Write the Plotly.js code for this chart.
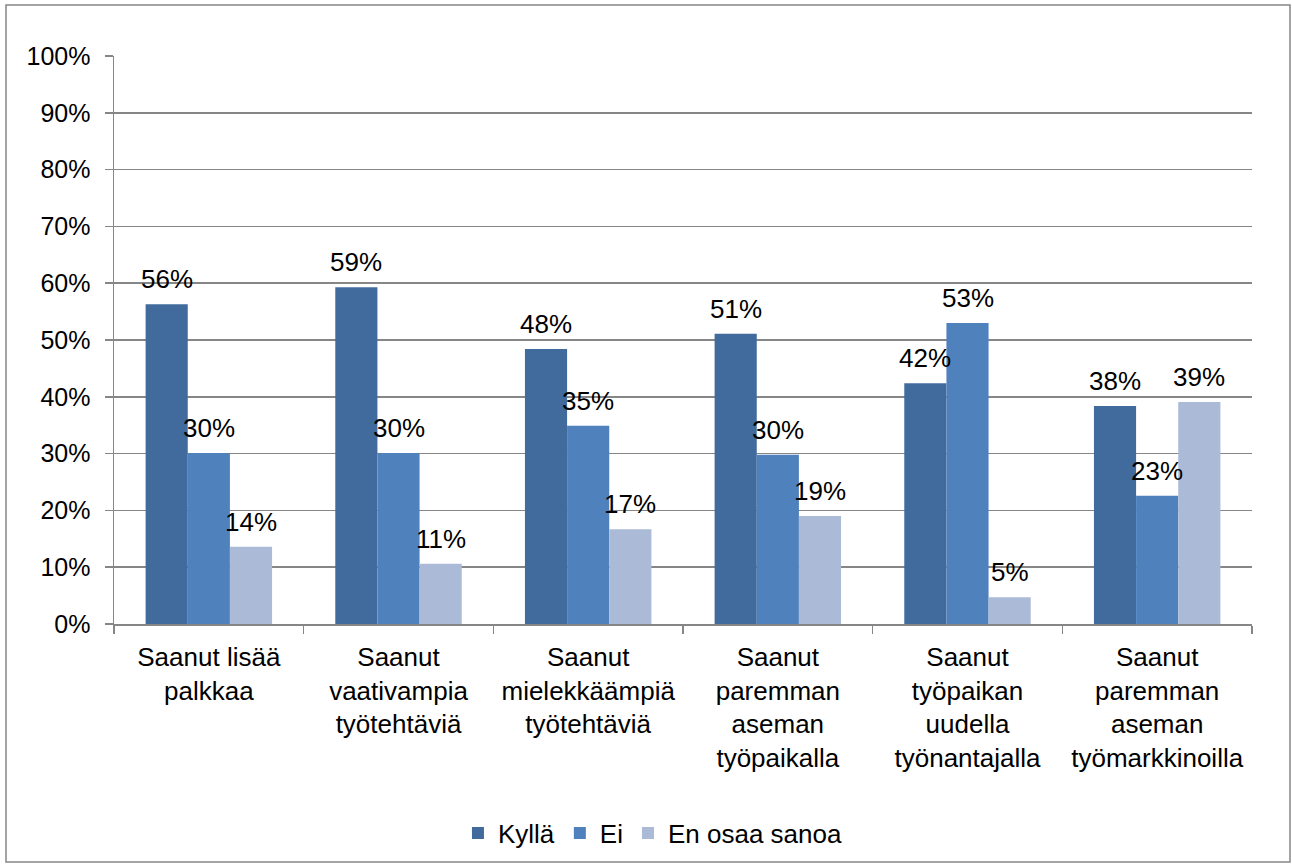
<!DOCTYPE html>
<html><head><meta charset="utf-8">
<script src="https://cdn.plot.ly/plotly-3.0.1.min.js"></script>
<style>html,body{margin:0;padding:0;background:#fff}#chart{width:1292px;height:868px}</style>
</head><body><div id="chart"></div>
<script>
const categories = [
  "Saanut lisää<br>palkkaa",
  "Saanut<br>vaativampia<br>työtehtäviä",
  "Saanut<br>mielekkäämpiä<br>työtehtäviä",
  "Saanut<br>paremman<br>aseman<br>työpaikalla",
  "Saanut<br>työpaikan<br>uudella<br>työnantajalla",
  "Saanut<br>paremman<br>aseman<br>työmarkkinoilla"
];
const seriesNames = ["Kyllä", "Ei", "En osaa sanoa"];
const kylla = [56.3, 59.3, 48.4, 51.1, 42.4, 38.4];
const ei = [30.1, 30.1, 34.9, 29.8, 53.0, 22.6];
const eos = [13.6, 10.6, 16.7, 19.0, 4.7, 39.1];
const yTickVals = [0,10,20,30,40,50,60,70,80,90,100];

const colors = ["#416B9D", "#4F81BD", "#AABAD7"];
const allSeries = [kylla, ei, eos];
const FONT = "Liberation Sans, Arial, sans-serif";

const traces = allSeries.map((vals, i) => ({
  type: "bar", name: seriesNames[i], x: categories, y: vals,
  marker: {color: colors[i]}, hoverinfo: "skip"
}));

const barW = 1138 / 6 * (2/3) / 3;
const annotations = [];
allSeries.forEach((vals, i) => {
  vals.forEach((v, j) => {
    annotations.push({
      x: categories[j], y: v, xref: "x", yref: "y",
      text: Math.round(v) + "%", showarrow: false,
      xanchor: "center", yanchor: "bottom",
      xshift: (i - 1) * barW, yshift: 8,
      font: {family: FONT, size: 26, color: "#000"}
    });
  });
});

const layout = {
  width: 1292, height: 868,
  margin: {l: 114, r: 40, t: 56, b: 244},
  paper_bgcolor: "#fff", plot_bgcolor: "#fff",
  font: {family: FONT, size: 26, color: "#000"},
  barmode: "group", bargap: 1/3, bargroupgap: 0,
  showlegend: true,
  legend: {orientation: "h", x: 0.4736, xanchor: "center", y: -0.368, yanchor: "middle",
    font: {family: FONT, size: 26, color: "#000"}, itemwidth: 30, tracegroupgap: 0},
  xaxis: {
    type: "category", showline: true, linecolor: "#868686", linewidth: 1.5,
    ticks: "outside", tickson: "boundaries", ticklen: 8, tickcolor: "#868686", tickwidth: 1.5,
    showgrid: false, ticklabelstandoff: 9,
    tickfont: {family: FONT, size: 26, color: "#000"}
  },
  yaxis: {
    range: [0, 100], tickvals: yTickVals, ticktext: yTickVals.map(v => v + "%"),
    showline: true, linecolor: "#868686", linewidth: 1.5,
    ticks: "outside", ticklen: 8, tickcolor: "#868686", tickwidth: 1.5,
    showgrid: true, gridcolor: "#868686", gridwidth: 1.5, zeroline: false,
    ticklabelstandoff: 9,
    tickfont: {family: FONT, size: 25, color: "#000"}
  },
  annotations: annotations,
  shapes: [{type: "rect", xref: "paper", yref: "paper",
    x0: (6 - 114) / 1138, x1: (1290 - 114) / 1138,
    y0: (624 - 862) / 568, y1: (624 - 5) / 568,
    line: {color: "#868686", width: 1.5}, fillcolor: "rgba(0,0,0,0)", layer: "below"}]
};

Plotly.newPlot("chart", traces, layout, {displayModeBar: false, staticPlot: true});
</script></body></html>
